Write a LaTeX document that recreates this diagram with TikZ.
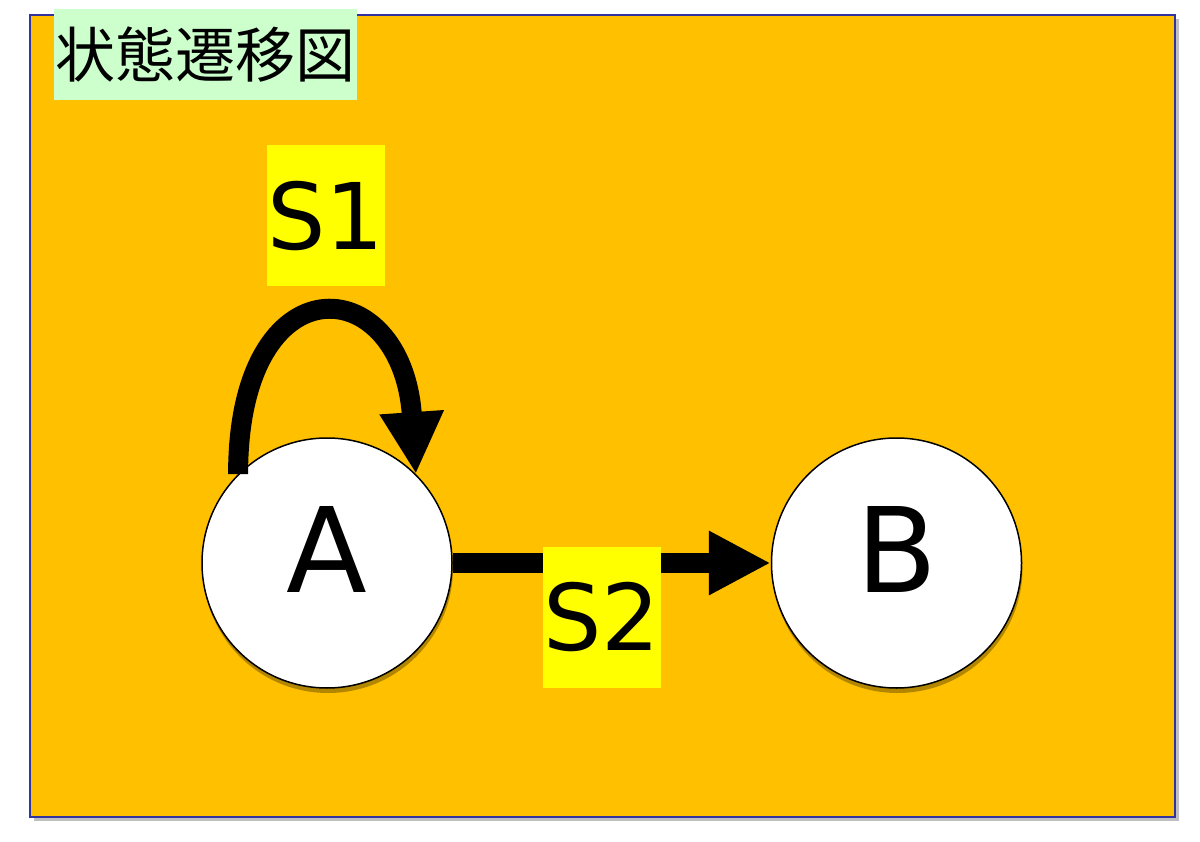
\documentclass[tikz,border=0pt]{standalone}
\usepackage{fontspec}
\setmainfont{DejaVu Sans}
\newfontfamily\jpfont{Noto Sans CJK JP}
\usepackage{tikz}
\usetikzlibrary{arrows.meta,shadows,positioning}
\definecolor{bgorange}{RGB}{255,192,0}
\definecolor{frameblue}{RGB}{51,51,160}
\definecolor{titlegreen}{RGB}{204,255,204}
\definecolor{lblyellow}{RGB}{255,255,0}

\begin{document}
\begin{tikzpicture}[x=1pt, y=-1pt,
  stnode/.style={circle, draw=black, line width=1.5pt, fill=white, minimum size=250pt, inner sep=0pt,
    text depth=28pt, font=\fontsize{118}{118}\selectfont,
    drop shadow={shadow xshift=1pt, shadow yshift=-5pt, fill=black, opacity=0.3}},
  sbox/.style={fill=lblyellow, minimum width=118pt, minimum height=141pt, inner sep=0pt, font=\fontsize{92}{92}\selectfont},
  titlebox/.style={fill=titlegreen, minimum width=303pt, minimum height=91pt, inner sep=0pt, font=\jpfont\fontsize{60}{60}\selectfont},
  edge/.style={line width=20pt, -{Triangle[length=62pt,width=60pt]}}]
  \useasboundingbox (0,0) rectangle (1200,842);
  \draw[draw=frameblue, line width=1.5pt, fill=bgorange,
    drop shadow={shadow xshift=4pt, shadow yshift=-4pt, fill=gray, opacity=0.5}] (30,15) rectangle (1175,817);% background frame
  \node[titlebox] (title) at (205.5,54.5) {状態遷移図};
  % states
  \node[stnode] (A) at (327,563) {A};
  \node[stnode, right=318pt of A] (B) {B};
  % transitions
  \draw[edge] (A.135) .. controls +(0,-215) and +(-14,-205) .. (A.45);
  \draw[edge] (A) -- (B);
  \node[sbox] (s1) at (326,216) {S1};
  \node[sbox] (s2) at (602,617) {S2};
\end{tikzpicture}
\end{document}
